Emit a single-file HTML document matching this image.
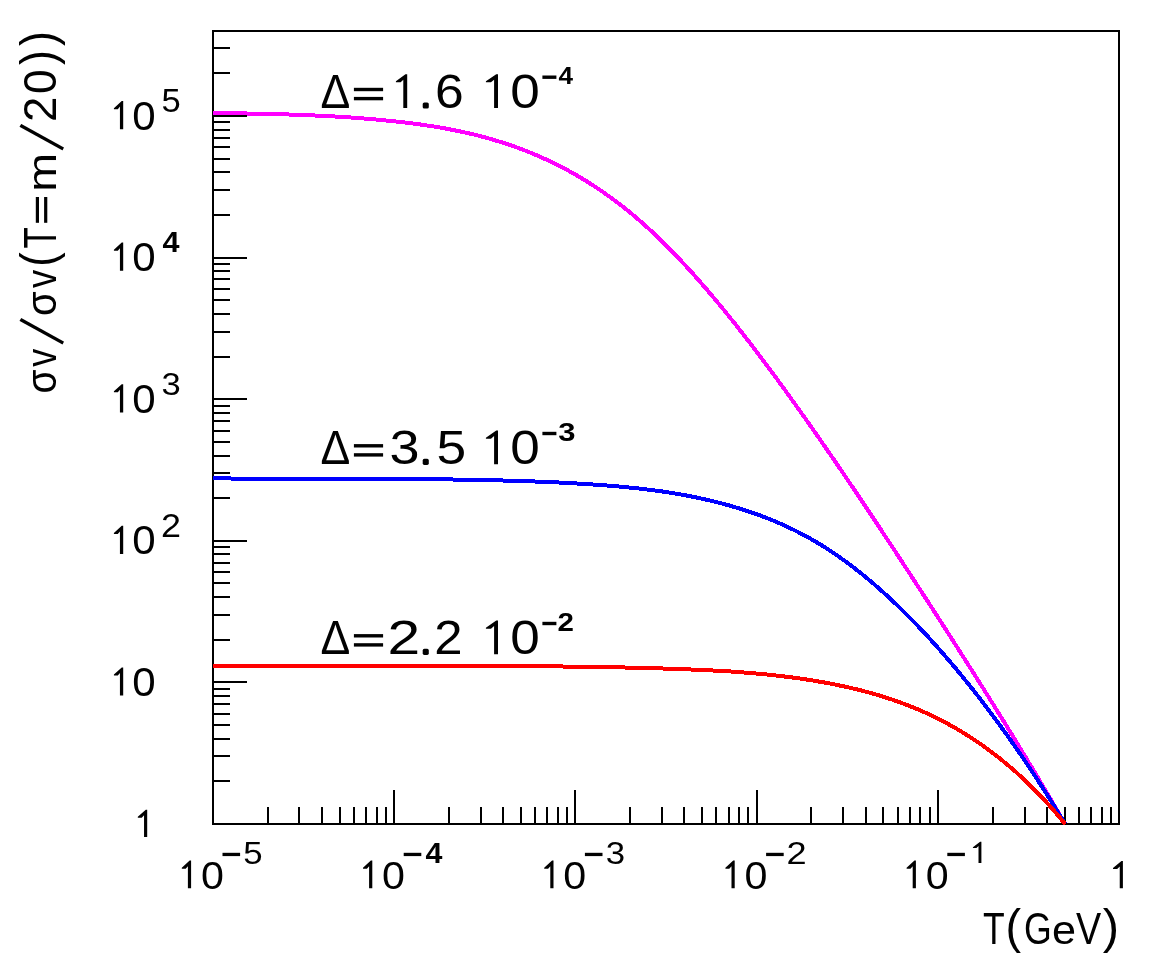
<!DOCTYPE html>
<html lang="en">
<head>
<meta charset="utf-8">
<title>Cross-section enhancement vs temperature</title>
<style>
html,body{margin:0;padding:0;background:#fff;}
body{width:1149px;height:977px;overflow:hidden;font-family:"Liberation Sans",sans-serif;}
svg{display:block;}
</style>
</head>
<body>
<svg width="1149" height="977" viewBox="0 0 1149 977">
<title>Enhancement of the annihilation cross section versus temperature</title>
<desc>Log-log plot of sigma v / sigma v(T=m/20) against T(GeV) from 1e-5 to 1 for Delta=1.6e-4 (magenta), 3.5e-3 (blue) and 2.2e-2 (red).</desc>
<rect width="1149" height="977" fill="#fff"/>
<path d="M268 824 V807 M299 824 V807 M322 824 V807 M340 824 V807 M354 824 V807 M366 824 V807 M377 824 V807 M386 824 V807 M394 824 V790 M449 824 V807 M481 824 V807 M503 824 V807 M521 824 V807 M535 824 V807 M547 824 V807 M558 824 V807 M567 824 V807 M575 824 V790 M630 824 V807 M662 824 V807 M684 824 V807 M702 824 V807 M716 824 V807 M729 824 V807 M739 824 V807 M748 824 V807 M757 824 V790 M811 824 V807 M843 824 V807 M866 824 V807 M883 824 V807 M898 824 V807 M910 824 V807 M920 824 V807 M930 824 V807 M938 824 V790 M993 824 V807 M1025 824 V807 M1047 824 V807 M1065 824 V807 M1079 824 V807 M1091 824 V807 M1102 824 V807 M1111 824 V807 M213 781 H230 M213 756 H230 M213 739 H230 M213 725 H230 M213 714 H230 M213 704 H230 M213 696 H230 M213 689 H230 M213 682 H247 M213 640 H230 M213 615 H230 M213 597 H230 M213 583 H230 M213 572 H230 M213 563 H230 M213 554 H230 M213 547 H230 M213 541 H247 M213 498 H230 M213 473 H230 M213 456 H230 M213 442 H230 M213 431 H230 M213 421 H230 M213 413 H230 M213 406 H230 M213 399 H247 M213 357 H230 M213 332 H230 M213 314 H230 M213 300 H230 M213 289 H230 M213 279 H230 M213 271 H230 M213 264 H230 M213 258 H247 M213 215 H230 M213 190 H230 M213 172 H230 M213 159 H230 M213 147 H230 M213 138 H230 M213 130 H230 M213 122 H230 M213 116 H247 M213 73 H230 M213 48 H230" stroke="#000" stroke-width="2" fill="none" shape-rendering="crispEdges"/>
<rect x="213" y="31" width="906" height="793" fill="none" stroke="#000" stroke-width="2" shape-rendering="crispEdges"/>
<path d="M213.0 113.0 L215.0 113.0 L217.0 113.0 L219.0 113.0 L221.0 113.1 L223.0 113.1 L225.0 113.1 L227.0 113.2 L229.0 113.2 L231.0 113.2 L233.0 113.2 L235.0 113.3 L237.0 113.3 L239.0 113.3 L241.0 113.4 L243.0 113.4 L245.0 113.4 L247.0 113.5 L249.0 113.5 L251.0 113.6 L253.0 113.6 L255.0 113.6 L257.0 113.7 L259.0 113.7 L261.0 113.8 L263.0 113.8 L265.0 113.9 L267.0 113.9 L269.0 113.9 L271.0 114.0 L273.0 114.0 L275.0 114.1 L277.0 114.2 L279.0 114.2 L281.0 114.3 L283.0 114.3 L285.0 114.4 L287.0 114.4 L289.0 114.5 L291.0 114.6 L293.0 114.6 L295.0 114.7 L297.0 114.8 L299.0 114.9 L301.0 114.9 L303.0 115.0 L305.0 115.1 L307.0 115.2 L309.0 115.2 L311.0 115.3 L313.0 115.4 L315.0 115.5 L317.0 115.6 L319.0 115.7 L321.0 115.8 L323.0 115.9 L325.0 116.0 L327.0 116.1 L329.0 116.2 L331.0 116.3 L333.0 116.4 L335.0 116.5 L337.0 116.7 L339.0 116.8 L341.0 116.9 L343.0 117.0 L345.0 117.1 L347.0 117.3 L349.0 117.4 L351.0 117.5 L353.0 117.7 L355.0 117.8 L357.0 118.0 L359.0 118.1 L361.0 118.3 L363.0 118.4 L365.0 118.6 L367.0 118.7 L369.0 118.9 L371.0 119.1 L373.0 119.3 L375.0 119.4 L377.0 119.6 L379.0 119.8 L381.0 120.0 L383.0 120.2 L385.0 120.4 L387.0 120.6 L389.0 120.8 L391.0 121.0 L393.0 121.2 L395.0 121.4 L397.0 121.6 L399.0 121.8 L401.0 122.0 L403.0 122.3 L405.0 122.5 L407.0 122.7 L409.0 123.0 L411.0 123.2 L413.0 123.5 L415.0 123.8 L417.0 124.0 L419.0 124.3 L421.0 124.6 L423.0 124.9 L425.0 125.2 L427.0 125.5 L429.0 125.8 L431.0 126.1 L433.0 126.4 L435.0 126.7 L437.0 127.0 L439.0 127.4 L441.0 127.7 L443.0 128.1 L445.0 128.4 L447.0 128.8 L449.0 129.2 L451.0 129.6 L453.0 130.0 L455.0 130.4 L457.0 130.8 L459.0 131.2 L461.0 131.6 L463.0 132.0 L465.0 132.5 L467.0 132.9 L469.0 133.4 L471.0 133.9 L473.0 134.3 L475.0 134.8 L477.0 135.3 L479.0 135.8 L481.0 136.4 L483.0 136.9 L485.0 137.4 L487.0 138.0 L489.0 138.5 L491.0 139.1 L493.0 139.7 L495.0 140.3 L497.0 140.9 L499.0 141.5 L501.0 142.1 L503.0 142.8 L505.0 143.4 L507.0 144.1 L509.0 144.7 L511.0 145.4 L513.0 146.1 L515.0 146.8 L517.0 147.5 L519.0 148.3 L521.0 149.0 L523.0 149.8 L525.0 150.5 L527.0 151.3 L529.0 152.1 L531.0 152.9 L533.0 153.8 L535.0 154.6 L537.0 155.4 L539.0 156.3 L541.0 157.2 L543.0 158.1 L545.0 159.0 L547.0 159.9 L549.0 160.8 L551.0 161.8 L553.0 162.8 L555.0 163.7 L557.0 164.7 L559.0 165.7 L561.0 166.8 L563.0 167.8 L565.0 168.9 L567.0 169.9 L569.0 171.0 L571.0 172.1 L573.0 173.2 L575.0 174.4 L577.0 175.5 L579.0 176.7 L581.0 177.9 L583.0 179.1 L585.0 180.3 L587.0 181.5 L589.0 182.8 L591.0 184.1 L593.0 185.3 L595.0 186.6 L597.0 188.0 L599.0 189.3 L601.0 190.7 L603.0 192.0 L605.0 193.4 L607.0 194.9 L609.0 196.3 L611.0 197.7 L613.0 199.2 L615.0 200.7 L617.0 202.2 L619.0 203.7 L621.0 205.3 L623.0 206.8 L625.0 208.4 L627.0 210.0 L629.0 211.6 L631.0 213.3 L633.0 214.9 L635.0 216.6 L637.0 218.3 L639.0 220.1 L641.0 221.8 L643.0 223.6 L645.0 225.3 L647.0 227.2 L649.0 229.0 L651.0 230.8 L653.0 232.7 L655.0 234.6 L657.0 236.5 L659.0 238.4 L661.0 240.3 L663.0 242.3 L665.0 244.3 L667.0 246.3 L669.0 248.3 L671.0 250.3 L673.0 252.4 L675.0 254.4 L677.0 256.5 L679.0 258.6 L681.0 260.8 L683.0 262.9 L685.0 265.1 L687.0 267.2 L689.0 269.4 L691.0 271.6 L693.0 273.8 L695.0 276.1 L697.0 278.3 L699.0 280.6 L701.0 282.9 L703.0 285.2 L705.0 287.5 L707.0 289.8 L709.0 292.2 L711.0 294.5 L713.0 296.9 L715.0 299.3 L717.0 301.7 L719.0 304.1 L721.0 306.5 L723.0 308.9 L725.0 311.4 L727.0 313.9 L729.0 316.3 L731.0 318.8 L733.0 321.3 L735.0 323.8 L737.0 326.4 L739.0 328.9 L741.0 331.5 L743.0 334.0 L745.0 336.6 L747.0 339.2 L749.0 341.8 L751.0 344.4 L753.0 347.0 L755.0 349.6 L757.0 352.3 L759.0 354.9 L761.0 357.6 L763.0 360.2 L765.0 362.9 L767.0 365.6 L769.0 368.3 L771.0 371.0 L773.0 373.7 L775.0 376.4 L777.0 379.1 L779.0 381.9 L781.0 384.6 L783.0 387.4 L785.0 390.1 L787.0 392.9 L789.0 395.7 L791.0 398.5 L793.0 401.3 L795.0 404.1 L797.0 406.9 L799.0 409.7 L801.0 412.5 L803.0 415.3 L805.0 418.1 L807.0 421.0 L809.0 423.8 L811.0 426.7 L813.0 429.5 L815.0 432.4 L817.0 435.3 L819.0 438.1 L821.0 441.0 L823.0 443.9 L825.0 446.8 L827.0 449.7 L829.0 452.6 L831.0 455.5 L833.0 458.4 L835.0 461.3 L837.0 464.3 L839.0 467.2 L841.0 470.1 L843.0 473.1 L845.0 476.0 L847.0 479.0 L849.0 481.9 L851.0 484.9 L853.0 487.8 L855.0 490.8 L857.0 493.8 L859.0 496.8 L861.0 499.8 L863.0 502.7 L865.0 505.7 L867.0 508.7 L869.0 511.7 L871.0 514.7 L873.0 517.8 L875.0 520.8 L877.0 523.8 L879.0 526.8 L881.0 529.8 L883.0 532.9 L885.0 535.9 L887.0 538.9 L889.0 542.0 L891.0 545.0 L893.0 548.1 L895.0 551.1 L897.0 554.2 L899.0 557.2 L901.0 560.3 L903.0 563.4 L905.0 566.4 L907.0 569.5 L909.0 572.6 L911.0 575.6 L913.0 578.7 L915.0 581.8 L917.0 584.9 L919.0 588.0 L921.0 591.1 L923.0 594.2 L925.0 597.2 L927.0 600.3 L929.0 603.4 L931.0 606.5 L933.0 609.6 L935.0 612.7 L937.0 615.8 L939.0 619.0 L941.0 622.1 L943.0 625.2 L945.0 628.3 L947.0 631.4 L949.0 634.5 L951.0 637.7 L953.0 640.8 L955.0 643.9 L957.0 647.0 L959.0 650.2 L961.0 653.3 L963.0 656.5 L965.0 659.6 L967.0 662.8 L969.0 665.9 L971.0 669.1 L973.0 672.2 L975.0 675.4 L977.0 678.6 L979.0 681.8 L981.0 684.9 L983.0 688.1 L985.0 691.3 L987.0 694.5 L989.0 697.7 L991.0 700.9 L993.0 704.1 L995.0 707.3 L997.0 710.6 L999.0 713.8 L1001.0 717.0 L1003.0 720.2 L1005.0 723.5 L1007.0 726.7 L1009.0 730.0 L1011.0 733.2 L1013.0 736.5 L1015.0 739.8 L1017.0 743.1 L1019.0 746.3 L1021.0 749.6 L1023.0 752.9 L1025.0 756.2 L1027.0 759.5 L1029.0 762.9 L1031.0 766.2 L1033.0 769.5 L1035.0 772.8 L1037.0 776.2 L1039.0 779.5 L1041.0 782.9 L1043.0 786.3 L1045.0 789.6 L1047.0 793.0 L1049.0 796.4 L1051.0 799.8 L1053.0 803.2 L1055.0 806.6 L1057.0 810.1 L1059.0 813.5 L1061.0 816.9 L1063.0 820.4 L1065.0 823.8 L1065.1 824.0" stroke="#ff00ff" stroke-width="4" fill="none" stroke-linejoin="round" shape-rendering="crispEdges"/>
<path d="M213.0 478.3 L215.0 478.3 L217.0 478.3 L219.0 478.3 L221.0 478.4 L223.0 478.4 L225.0 478.4 L227.0 478.4 L229.0 478.4 L231.0 478.5 L233.0 478.5 L235.0 478.5 L237.0 478.5 L239.0 478.5 L241.0 478.5 L243.0 478.5 L245.0 478.5 L247.0 478.6 L249.0 478.6 L251.0 478.6 L253.0 478.6 L255.0 478.6 L257.0 478.6 L259.0 478.6 L261.0 478.6 L263.0 478.6 L265.0 478.6 L267.0 478.7 L269.0 478.7 L271.0 478.7 L273.0 478.7 L275.0 478.7 L277.0 478.7 L279.0 478.7 L281.0 478.7 L283.0 478.7 L285.0 478.7 L287.0 478.7 L289.0 478.7 L291.0 478.7 L293.0 478.7 L295.0 478.7 L297.0 478.7 L299.0 478.7 L301.0 478.7 L303.0 478.7 L305.0 478.7 L307.0 478.7 L309.0 478.7 L311.0 478.7 L313.0 478.8 L315.0 478.8 L317.0 478.8 L319.0 478.8 L321.0 478.8 L323.0 478.8 L325.0 478.8 L327.0 478.8 L329.0 478.8 L331.0 478.8 L333.0 478.8 L335.0 478.8 L337.0 478.8 L339.0 478.8 L341.0 478.8 L343.0 478.8 L345.0 478.8 L347.0 478.8 L349.0 478.8 L351.0 478.8 L353.0 478.8 L355.0 478.8 L357.0 478.8 L359.0 478.8 L361.0 478.8 L363.0 478.8 L365.0 478.8 L367.0 478.8 L369.0 478.8 L371.0 478.8 L373.0 478.9 L375.0 478.9 L377.0 478.9 L379.0 478.9 L381.0 478.9 L383.0 478.9 L385.0 478.9 L387.0 478.9 L389.0 478.9 L391.0 478.9 L393.0 478.9 L395.0 478.9 L397.0 479.0 L399.0 479.0 L401.0 479.0 L403.0 479.0 L405.0 479.0 L407.0 479.0 L409.0 479.0 L411.0 479.0 L413.0 479.1 L415.0 479.1 L417.0 479.1 L419.0 479.1 L421.0 479.1 L423.0 479.1 L425.0 479.1 L427.0 479.2 L429.0 479.2 L431.0 479.2 L433.0 479.2 L435.0 479.2 L437.0 479.3 L439.0 479.3 L441.0 479.3 L443.0 479.3 L445.0 479.4 L447.0 479.4 L449.0 479.4 L451.0 479.4 L453.0 479.5 L455.0 479.5 L457.0 479.5 L459.0 479.6 L461.0 479.6 L463.0 479.6 L465.0 479.7 L467.0 479.7 L469.0 479.7 L471.0 479.8 L473.0 479.8 L475.0 479.8 L477.0 479.9 L479.0 479.9 L481.0 480.0 L483.0 480.0 L485.0 480.0 L487.0 480.1 L489.0 480.1 L491.0 480.2 L493.0 480.2 L495.0 480.3 L497.0 480.3 L499.0 480.4 L501.0 480.4 L503.0 480.5 L505.0 480.5 L507.0 480.6 L509.0 480.6 L511.0 480.7 L513.0 480.7 L515.0 480.8 L517.0 480.9 L519.0 480.9 L521.0 481.0 L523.0 481.0 L525.0 481.1 L527.0 481.2 L529.0 481.2 L531.0 481.3 L533.0 481.4 L535.0 481.5 L537.0 481.5 L539.0 481.6 L541.0 481.7 L543.0 481.8 L545.0 481.9 L547.0 481.9 L549.0 482.0 L551.0 482.1 L553.0 482.2 L555.0 482.3 L557.0 482.4 L559.0 482.5 L561.0 482.6 L563.0 482.7 L565.0 482.8 L567.0 482.9 L569.0 483.0 L571.0 483.1 L573.0 483.2 L575.0 483.3 L577.0 483.5 L579.0 483.6 L581.0 483.7 L583.0 483.8 L585.0 483.9 L587.0 484.1 L589.0 484.2 L591.0 484.3 L593.0 484.5 L595.0 484.6 L597.0 484.8 L599.0 484.9 L601.0 485.0 L603.0 485.2 L605.0 485.4 L607.0 485.5 L609.0 485.7 L611.0 485.8 L613.0 486.0 L615.0 486.2 L617.0 486.3 L619.0 486.5 L621.0 486.7 L623.0 486.9 L625.0 487.1 L627.0 487.3 L629.0 487.5 L631.0 487.7 L633.0 487.9 L635.0 488.1 L637.0 488.3 L639.0 488.5 L641.0 488.8 L643.0 489.0 L645.0 489.2 L647.0 489.5 L649.0 489.7 L651.0 490.0 L653.0 490.2 L655.0 490.5 L657.0 490.8 L659.0 491.1 L661.0 491.3 L663.0 491.6 L665.0 491.9 L667.0 492.2 L669.0 492.5 L671.0 492.9 L673.0 493.2 L675.0 493.5 L677.0 493.8 L679.0 494.2 L681.0 494.5 L683.0 494.9 L685.0 495.3 L687.0 495.6 L689.0 496.0 L691.0 496.4 L693.0 496.8 L695.0 497.2 L697.0 497.6 L699.0 498.0 L701.0 498.5 L703.0 498.9 L705.0 499.4 L707.0 499.8 L709.0 500.3 L711.0 500.8 L713.0 501.2 L715.0 501.7 L717.0 502.2 L719.0 502.7 L721.0 503.3 L723.0 503.8 L725.0 504.3 L727.0 504.9 L729.0 505.4 L731.0 506.0 L733.0 506.6 L735.0 507.2 L737.0 507.8 L739.0 508.4 L741.0 509.0 L743.0 509.6 L745.0 510.3 L747.0 510.9 L749.0 511.6 L751.0 512.3 L753.0 512.9 L755.0 513.6 L757.0 514.4 L759.0 515.1 L761.0 515.8 L763.0 516.6 L765.0 517.3 L767.0 518.1 L769.0 518.9 L771.0 519.7 L773.0 520.5 L775.0 521.4 L777.0 522.2 L779.0 523.1 L781.0 523.9 L783.0 524.8 L785.0 525.7 L787.0 526.7 L789.0 527.6 L791.0 528.6 L793.0 529.5 L795.0 530.5 L797.0 531.5 L799.0 532.5 L801.0 533.6 L803.0 534.6 L805.0 535.7 L807.0 536.8 L809.0 537.9 L811.0 539.0 L813.0 540.2 L815.0 541.3 L817.0 542.5 L819.0 543.7 L821.0 544.9 L823.0 546.2 L825.0 547.4 L827.0 548.7 L829.0 550.0 L831.0 551.3 L833.0 552.7 L835.0 554.0 L837.0 555.4 L839.0 556.8 L841.0 558.2 L843.0 559.6 L845.0 561.1 L847.0 562.5 L849.0 564.0 L851.0 565.5 L853.0 567.1 L855.0 568.6 L857.0 570.2 L859.0 571.7 L861.0 573.3 L863.0 574.9 L865.0 576.6 L867.0 578.2 L869.0 579.9 L871.0 581.6 L873.0 583.3 L875.0 585.0 L877.0 586.7 L879.0 588.5 L881.0 590.3 L883.0 592.1 L885.0 593.9 L887.0 595.7 L889.0 597.5 L891.0 599.4 L893.0 601.3 L895.0 603.2 L897.0 605.1 L899.0 607.0 L901.0 609.0 L903.0 610.9 L905.0 612.9 L907.0 614.9 L909.0 616.9 L911.0 618.9 L913.0 621.0 L915.0 623.0 L917.0 625.1 L919.0 627.2 L921.0 629.3 L923.0 631.4 L925.0 633.6 L927.0 635.7 L929.0 637.9 L931.0 640.1 L933.0 642.3 L935.0 644.5 L937.0 646.8 L939.0 649.0 L941.0 651.3 L943.0 653.6 L945.0 655.9 L947.0 658.2 L949.0 660.5 L951.0 662.9 L953.0 665.3 L955.0 667.6 L957.0 670.0 L959.0 672.4 L961.0 674.9 L963.0 677.3 L965.0 679.8 L967.0 682.3 L969.0 684.7 L971.0 687.3 L973.0 689.8 L975.0 692.3 L977.0 694.9 L979.0 697.4 L981.0 700.0 L983.0 702.6 L985.0 705.2 L987.0 707.9 L989.0 710.5 L991.0 713.2 L993.0 715.9 L995.0 718.6 L997.0 721.3 L999.0 724.0 L1001.0 726.8 L1003.0 729.5 L1005.0 732.3 L1007.0 735.1 L1009.0 737.9 L1011.0 740.7 L1013.0 743.6 L1015.0 746.4 L1017.0 749.3 L1019.0 752.2 L1021.0 755.1 L1023.0 758.1 L1025.0 761.0 L1027.0 764.0 L1029.0 767.0 L1031.0 770.0 L1033.0 773.0 L1035.0 776.0 L1037.0 779.1 L1039.0 782.2 L1041.0 785.3 L1043.0 788.4 L1045.0 791.5 L1047.0 794.6 L1049.0 797.8 L1051.0 801.0 L1053.0 804.2 L1055.0 807.4 L1057.0 810.7 L1059.0 813.9 L1061.0 817.2 L1063.0 820.5 L1065.0 823.8 L1065.1 824.0" stroke="#0000ff" stroke-width="4" fill="none" stroke-linejoin="round" shape-rendering="crispEdges"/>
<path d="M213.0 665.9 L215.0 665.9 L217.0 665.9 L219.0 666.0 L221.0 666.0 L223.0 666.0 L225.0 666.0 L227.0 666.0 L229.0 666.0 L231.0 666.1 L233.0 666.1 L235.0 666.1 L237.0 666.1 L239.0 666.1 L241.0 666.1 L243.0 666.1 L245.0 666.2 L247.0 666.2 L249.0 666.2 L251.0 666.2 L253.0 666.2 L255.0 666.2 L257.0 666.2 L259.0 666.2 L261.0 666.2 L263.0 666.3 L265.0 666.3 L267.0 666.3 L269.0 666.3 L271.0 666.3 L273.0 666.3 L275.0 666.3 L277.0 666.3 L279.0 666.3 L281.0 666.3 L283.0 666.3 L285.0 666.3 L287.0 666.3 L289.0 666.3 L291.0 666.3 L293.0 666.3 L295.0 666.3 L297.0 666.3 L299.0 666.3 L301.0 666.3 L303.0 666.3 L305.0 666.3 L307.0 666.3 L309.0 666.3 L311.0 666.3 L313.0 666.3 L315.0 666.3 L317.0 666.3 L319.0 666.3 L321.0 666.3 L323.0 666.3 L325.0 666.3 L327.0 666.3 L329.0 666.3 L331.0 666.3 L333.0 666.3 L335.0 666.3 L337.0 666.3 L339.0 666.3 L341.0 666.3 L343.0 666.3 L345.0 666.3 L347.0 666.3 L349.0 666.3 L351.0 666.3 L353.0 666.3 L355.0 666.3 L357.0 666.3 L359.0 666.3 L361.0 666.3 L363.0 666.3 L365.0 666.3 L367.0 666.3 L369.0 666.3 L371.0 666.3 L373.0 666.3 L375.0 666.3 L377.0 666.3 L379.0 666.3 L381.0 666.3 L383.0 666.3 L385.0 666.3 L387.0 666.3 L389.0 666.3 L391.0 666.3 L393.0 666.3 L395.0 666.3 L397.0 666.3 L399.0 666.3 L401.0 666.3 L403.0 666.3 L405.0 666.3 L407.0 666.3 L409.0 666.3 L411.0 666.3 L413.0 666.3 L415.0 666.3 L417.0 666.3 L419.0 666.3 L421.0 666.3 L423.0 666.3 L425.0 666.3 L427.0 666.3 L429.0 666.3 L431.0 666.3 L433.0 666.3 L435.0 666.3 L437.0 666.3 L439.0 666.3 L441.0 666.3 L443.0 666.3 L445.0 666.3 L447.0 666.3 L449.0 666.3 L451.0 666.3 L453.0 666.3 L455.0 666.3 L457.0 666.3 L459.0 666.3 L461.0 666.3 L463.0 666.3 L465.0 666.3 L467.0 666.3 L469.0 666.3 L471.0 666.3 L473.0 666.3 L475.0 666.3 L477.0 666.3 L479.0 666.3 L481.0 666.3 L483.0 666.3 L485.0 666.3 L487.0 666.3 L489.0 666.3 L491.0 666.3 L493.0 666.3 L495.0 666.3 L497.0 666.3 L499.0 666.3 L501.0 666.3 L503.0 666.3 L505.0 666.3 L507.0 666.3 L509.0 666.3 L511.0 666.3 L513.0 666.3 L515.0 666.3 L517.0 666.3 L519.0 666.3 L521.0 666.3 L523.0 666.3 L525.0 666.3 L527.0 666.3 L529.0 666.3 L531.0 666.3 L533.0 666.3 L535.0 666.3 L537.0 666.3 L539.0 666.3 L541.0 666.3 L543.0 666.3 L545.0 666.3 L547.0 666.3 L549.0 666.3 L551.0 666.4 L553.0 666.4 L555.0 666.4 L557.0 666.4 L559.0 666.4 L561.0 666.4 L563.0 666.5 L565.0 666.5 L567.0 666.5 L569.0 666.5 L571.0 666.6 L573.0 666.6 L575.0 666.6 L577.0 666.6 L579.0 666.7 L581.0 666.7 L583.0 666.7 L585.0 666.7 L587.0 666.8 L589.0 666.8 L591.0 666.8 L593.0 666.9 L595.0 666.9 L597.0 666.9 L599.0 667.0 L601.0 667.0 L603.0 667.0 L605.0 667.1 L607.0 667.1 L609.0 667.1 L611.0 667.2 L613.0 667.2 L615.0 667.3 L617.0 667.3 L619.0 667.3 L621.0 667.4 L623.0 667.4 L625.0 667.5 L627.0 667.5 L629.0 667.6 L631.0 667.6 L633.0 667.7 L635.0 667.7 L637.0 667.8 L639.0 667.8 L641.0 667.9 L643.0 667.9 L645.0 668.0 L647.0 668.0 L649.0 668.1 L651.0 668.1 L653.0 668.2 L655.0 668.2 L657.0 668.3 L659.0 668.4 L661.0 668.4 L663.0 668.5 L665.0 668.5 L667.0 668.6 L669.0 668.7 L671.0 668.7 L673.0 668.8 L675.0 668.9 L677.0 668.9 L679.0 669.0 L681.0 669.1 L683.0 669.1 L685.0 669.2 L687.0 669.3 L689.0 669.4 L691.0 669.5 L693.0 669.5 L695.0 669.6 L697.0 669.7 L699.0 669.8 L701.0 669.9 L703.0 670.0 L705.0 670.1 L707.0 670.2 L709.0 670.3 L711.0 670.4 L713.0 670.5 L715.0 670.6 L717.0 670.7 L719.0 670.8 L721.0 670.9 L723.0 671.0 L725.0 671.2 L727.0 671.3 L729.0 671.4 L731.0 671.5 L733.0 671.7 L735.0 671.8 L737.0 672.0 L739.0 672.1 L741.0 672.3 L743.0 672.4 L745.0 672.6 L747.0 672.7 L749.0 672.9 L751.0 673.1 L753.0 673.2 L755.0 673.4 L757.0 673.6 L759.0 673.8 L761.0 674.0 L763.0 674.1 L765.0 674.3 L767.0 674.5 L769.0 674.8 L771.0 675.0 L773.0 675.2 L775.0 675.4 L777.0 675.6 L779.0 675.9 L781.0 676.1 L783.0 676.3 L785.0 676.6 L787.0 676.8 L789.0 677.1 L791.0 677.3 L793.0 677.6 L795.0 677.9 L797.0 678.1 L799.0 678.4 L801.0 678.7 L803.0 679.0 L805.0 679.3 L807.0 679.6 L809.0 679.9 L811.0 680.2 L813.0 680.5 L815.0 680.9 L817.0 681.2 L819.0 681.6 L821.0 681.9 L823.0 682.3 L825.0 682.6 L827.0 683.0 L829.0 683.4 L831.0 683.7 L833.0 684.1 L835.0 684.5 L837.0 684.9 L839.0 685.4 L841.0 685.8 L843.0 686.2 L845.0 686.6 L847.0 687.1 L849.0 687.5 L851.0 688.0 L853.0 688.5 L855.0 688.9 L857.0 689.4 L859.0 689.9 L861.0 690.4 L863.0 690.9 L865.0 691.5 L867.0 692.0 L869.0 692.5 L871.0 693.1 L873.0 693.7 L875.0 694.2 L877.0 694.8 L879.0 695.4 L881.0 696.0 L883.0 696.6 L885.0 697.3 L887.0 697.9 L889.0 698.6 L891.0 699.2 L893.0 699.9 L895.0 700.6 L897.0 701.3 L899.0 702.0 L901.0 702.7 L903.0 703.5 L905.0 704.2 L907.0 705.0 L909.0 705.8 L911.0 706.6 L913.0 707.4 L915.0 708.2 L917.0 709.0 L919.0 709.9 L921.0 710.7 L923.0 711.6 L925.0 712.5 L927.0 713.4 L929.0 714.4 L931.0 715.3 L933.0 716.3 L935.0 717.2 L937.0 718.2 L939.0 719.2 L941.0 720.2 L943.0 721.3 L945.0 722.3 L947.0 723.4 L949.0 724.5 L951.0 725.6 L953.0 726.7 L955.0 727.9 L957.0 729.0 L959.0 730.2 L961.0 731.4 L963.0 732.6 L965.0 733.9 L967.0 735.1 L969.0 736.4 L971.0 737.7 L973.0 739.0 L975.0 740.3 L977.0 741.7 L979.0 743.0 L981.0 744.4 L983.0 745.8 L985.0 747.3 L987.0 748.7 L989.0 750.2 L991.0 751.7 L993.0 753.2 L995.0 754.7 L997.0 756.3 L999.0 757.8 L1001.0 759.4 L1003.0 761.1 L1005.0 762.7 L1007.0 764.4 L1009.0 766.1 L1011.0 767.8 L1013.0 769.5 L1015.0 771.3 L1017.0 773.0 L1019.0 774.9 L1021.0 776.7 L1023.0 778.5 L1025.0 780.4 L1027.0 782.3 L1029.0 784.3 L1031.0 786.2 L1033.0 788.2 L1035.0 790.2 L1037.0 792.3 L1039.0 794.3 L1041.0 796.4 L1043.0 798.6 L1045.0 800.7 L1047.0 802.9 L1049.0 805.1 L1051.0 807.4 L1053.0 809.6 L1055.0 811.9 L1057.0 814.3 L1059.0 816.6 L1061.0 819.0 L1063.0 821.4 L1065.0 823.9 L1065.1 824.0" stroke="#ff0000" stroke-width="4" fill="none" stroke-linejoin="round" shape-rendering="crispEdges"/>
<g font-family="'Liberation Sans', sans-serif" font-size="100" fill="#000" opacity="0.999">
<polygon points="123.20,101.00 123.20,129.20 119.93,129.20 119.93,106.62 117.81,109.15 113.90,109.15 113.90,108.17 121.73,101.00"/>
<text transform="matrix(0.4205 0 0 0.4011 132.36 129.60)">0</text>
<text transform="matrix(0.3460 0 0 0.3266 161.52 111.67)">5</text>
<polygon points="123.20,242.60 123.20,270.80 119.93,270.80 119.93,248.22 117.81,250.75 113.90,250.75 113.90,249.77 121.73,242.60"/>
<text transform="matrix(0.4205 0 0 0.4011 132.36 271.20)">0</text>
<text transform="matrix(0.3060 0 0 0.2892 162.44 251.90)" font-weight="bold">4</text>
<polygon points="123.20,384.20 123.20,412.40 119.93,412.40 119.93,389.82 117.81,392.35 113.90,392.35 113.90,391.37 121.73,384.20"/>
<text transform="matrix(0.4205 0 0 0.4011 132.36 412.80)">0</text>
<text transform="matrix(0.3460 0 0 0.3220 161.59 394.88)">3</text>
<polygon points="123.20,525.80 123.20,554.00 119.93,554.00 119.93,531.42 117.81,533.95 113.90,533.95 113.90,532.97 121.73,525.80"/>
<text transform="matrix(0.4205 0 0 0.4011 132.36 554.40)">0</text>
<text transform="matrix(0.3596 0 0 0.3266 161.10 536.80)">2</text>
<polygon points="123.20,667.40 123.20,695.60 119.93,695.60 119.93,673.02 117.81,675.55 113.90,675.55 113.90,674.57 121.73,667.40"/>
<text transform="matrix(0.4205 0 0 0.4011 132.36 696.00)">0</text>
<polygon points="147.20,809.80 147.20,837.00 144.04,837.00 144.04,815.24 141.75,817.69 137.80,817.69 137.80,816.74 145.78,809.80"/>
<polygon points="191.10,860.60 191.10,888.30 187.89,888.30 187.89,866.14 185.71,868.63 181.80,868.63 181.80,867.67 189.65,860.60"/>
<text transform="matrix(0.4121 0 0 0.3941 200.89 888.51)">0</text>
<rect x="222.5" y="852.8" width="17.6" height="3.3"/>
<text transform="matrix(0.3481 0 0 0.3166 243.31 863.68)">5</text>
<polygon points="372.30,860.60 372.30,888.30 369.09,888.30 369.09,866.14 366.91,868.63 363.00,868.63 363.00,867.67 370.85,860.60"/>
<text transform="matrix(0.4121 0 0 0.3941 382.09 888.51)">0</text>
<rect x="403.7" y="852.8" width="17.6" height="3.3"/>
<text transform="matrix(0.3041 0 0 0.2892 425.44 862.90)" font-weight="bold">4</text>
<polygon points="553.50,860.60 553.50,888.30 550.29,888.30 550.29,866.14 548.11,868.63 544.20,868.63 544.20,867.67 552.05,860.60"/>
<text transform="matrix(0.4121 0 0 0.3941 563.29 888.51)">0</text>
<rect x="584.9" y="852.8" width="17.6" height="3.3"/>
<text transform="matrix(0.3481 0 0 0.3121 605.78 863.69)">3</text>
<polygon points="734.70,860.60 734.70,888.30 731.49,888.30 731.49,866.14 729.31,868.63 725.40,868.63 725.40,867.67 733.25,860.60"/>
<text transform="matrix(0.4121 0 0 0.3941 744.49 888.51)">0</text>
<rect x="766.1" y="852.8" width="17.6" height="3.3"/>
<text transform="matrix(0.3618 0 0 0.3166 786.49 864.00)">2</text>
<polygon points="915.90,860.60 915.90,888.30 912.69,888.30 912.69,866.14 910.51,868.63 906.60,868.63 906.60,867.67 914.45,860.60"/>
<text transform="matrix(0.4121 0 0 0.3941 925.69 888.51)">0</text>
<rect x="947.3" y="852.8" width="17.6" height="3.3"/>
<polygon points="981.40,841.80 981.40,863.00 978.50,863.00 978.50,846.04 976.47,847.95 972.90,847.95 972.90,847.21 980.10,841.80"/>
<polygon points="1122.90,861.00 1122.90,888.20 1119.74,888.20 1119.74,866.44 1117.16,868.89 1113.00,868.89 1113.00,867.94 1121.48,861.00"/>
<text transform="matrix(0.3551 0 0 0.4491 983.12 943.70)">T</text>
<text transform="matrix(0.4679 0 0 0.4721 1005.40 943.13)">(</text>
<text transform="matrix(0.3568 0 0 0.4491 1024.12 943.70)">G</text>
<text transform="matrix(0.4319 0 0 0.4142 1051.89 944.49)">e</text>
<text transform="matrix(0.3775 0 0 0.4491 1076.01 943.70)">V</text>
<text transform="matrix(0.4906 0 0 0.4721 1102.71 943.13)">)</text>
<text transform="matrix(0.4457 0 0 0.4884 320.56 108.10)">Δ</text>
<rect x="353.9" y="87.8" width="29.2" height="3.4"/>
<rect x="353.9" y="96.9" width="29.2" height="3.4"/>
<polygon points="407.20,74.20 407.20,107.90 403.29,107.90 403.29,79.82 400.65,82.35 395.90,82.35 395.90,81.37 405.44,74.20"/>
<rect x="422.7" y="102.5" width="6.1" height="6.1" rx="1.6"/>
<text transform="matrix(0.5163 0 0 0.4884 435.07 108.10)">6</text>
<polygon points="498.00,74.20 498.00,107.90 494.09,107.90 494.09,79.82 490.98,82.35 485.90,82.35 485.90,81.37 496.24,74.20"/>
<text transform="matrix(0.5314 0 0 0.4884 510.13 108.10)">0</text>
<rect x="542.4" y="75.5" width="14.0" height="3.4"/>
<text transform="matrix(0.2612 0 0 0.2326 558.41 83.70)" font-weight="bold">4</text>
<text transform="matrix(0.4457 0 0 0.4884 320.56 464.40)">Δ</text>
<rect x="353.9" y="444.1" width="29.2" height="3.4"/>
<rect x="353.9" y="453.2" width="29.2" height="3.4"/>
<text transform="matrix(0.5401 0 0 0.4884 389.55 464.40)">3</text>
<rect x="422.7" y="458.8" width="6.1" height="6.1" rx="1.6"/>
<text transform="matrix(0.5338 0 0 0.4884 436.56 464.40)">5</text>
<polygon points="498.00,430.50 498.00,464.20 494.09,464.20 494.09,436.12 490.98,438.65 485.90,438.65 485.90,437.67 496.24,430.50"/>
<text transform="matrix(0.5314 0 0 0.4884 510.13 464.40)">0</text>
<rect x="542.4" y="431.8" width="14.0" height="3.4"/>
<text transform="matrix(0.3099 0 0 0.2581 558.29 441.42)" font-weight="bold">3</text>
<text transform="matrix(0.4457 0 0 0.4884 320.56 654.40)">Δ</text>
<rect x="353.9" y="634.1" width="29.2" height="3.4"/>
<rect x="353.9" y="643.2" width="29.2" height="3.4"/>
<text transform="matrix(0.5877 0 0 0.4884 387.46 654.40)">2</text>
<rect x="422.7" y="648.8" width="6.1" height="6.1" rx="1.6"/>
<text transform="matrix(0.5088 0 0 0.4884 434.16 654.40)">2</text>
<polygon points="498.00,620.50 498.00,654.20 494.09,654.20 494.09,626.12 490.98,628.65 485.90,628.65 485.90,627.67 496.24,620.50"/>
<text transform="matrix(0.5314 0 0 0.4884 510.13 654.40)">0</text>
<rect x="542.4" y="621.8" width="14.0" height="3.4"/>
<text transform="matrix(0.2952 0 0 0.2550 557.47 631.20)" font-weight="bold">2</text>
<g transform="rotate(-90)">
<text transform="matrix(0.3893 0 0 0.4219 -393.44 55.88)">σ</text>
<text transform="matrix(0.3598 0 0 0.4205 -366.64 55.80)">v</text>
<line x1="-343.06" y1="63.22" x2="-319.44" y2="20.38" stroke="#000" stroke-width="3.30"/>
<text transform="matrix(0.4000 0 0 0.4219 -315.88 55.88)">σ</text>
<text transform="matrix(0.3638 0 0 0.4205 -288.05 55.80)">v</text>
<text transform="matrix(0.4340 0 0 0.4914 -266.69 54.53)">(</text>
<text transform="matrix(0.3481 0 0 0.4651 -248.57 55.80)">T</text>
<rect x="-222.8" y="35.8" width="25.8" height="3.2"/>
<rect x="-222.8" y="44.1" width="25.8" height="3.2"/>
<text transform="matrix(0.4665 0 0 0.4071 -191.78 55.50)">m</text>
<line x1="-148.96" y1="63.22" x2="-125.34" y2="20.38" stroke="#000" stroke-width="3.30"/>
<text transform="matrix(0.4561 0 0 0.4651 -121.88 55.80)">2</text>
<text transform="matrix(0.4435 0 0 0.4619 -94.03 55.84)">0</text>
<text transform="matrix(0.4491 0 0 0.4914 -65.07 54.53)">)</text>
<text transform="matrix(0.4491 0 0 0.4914 -46.07 54.53)">)</text>
</g>
</g>
</svg>
</body>
</html>
